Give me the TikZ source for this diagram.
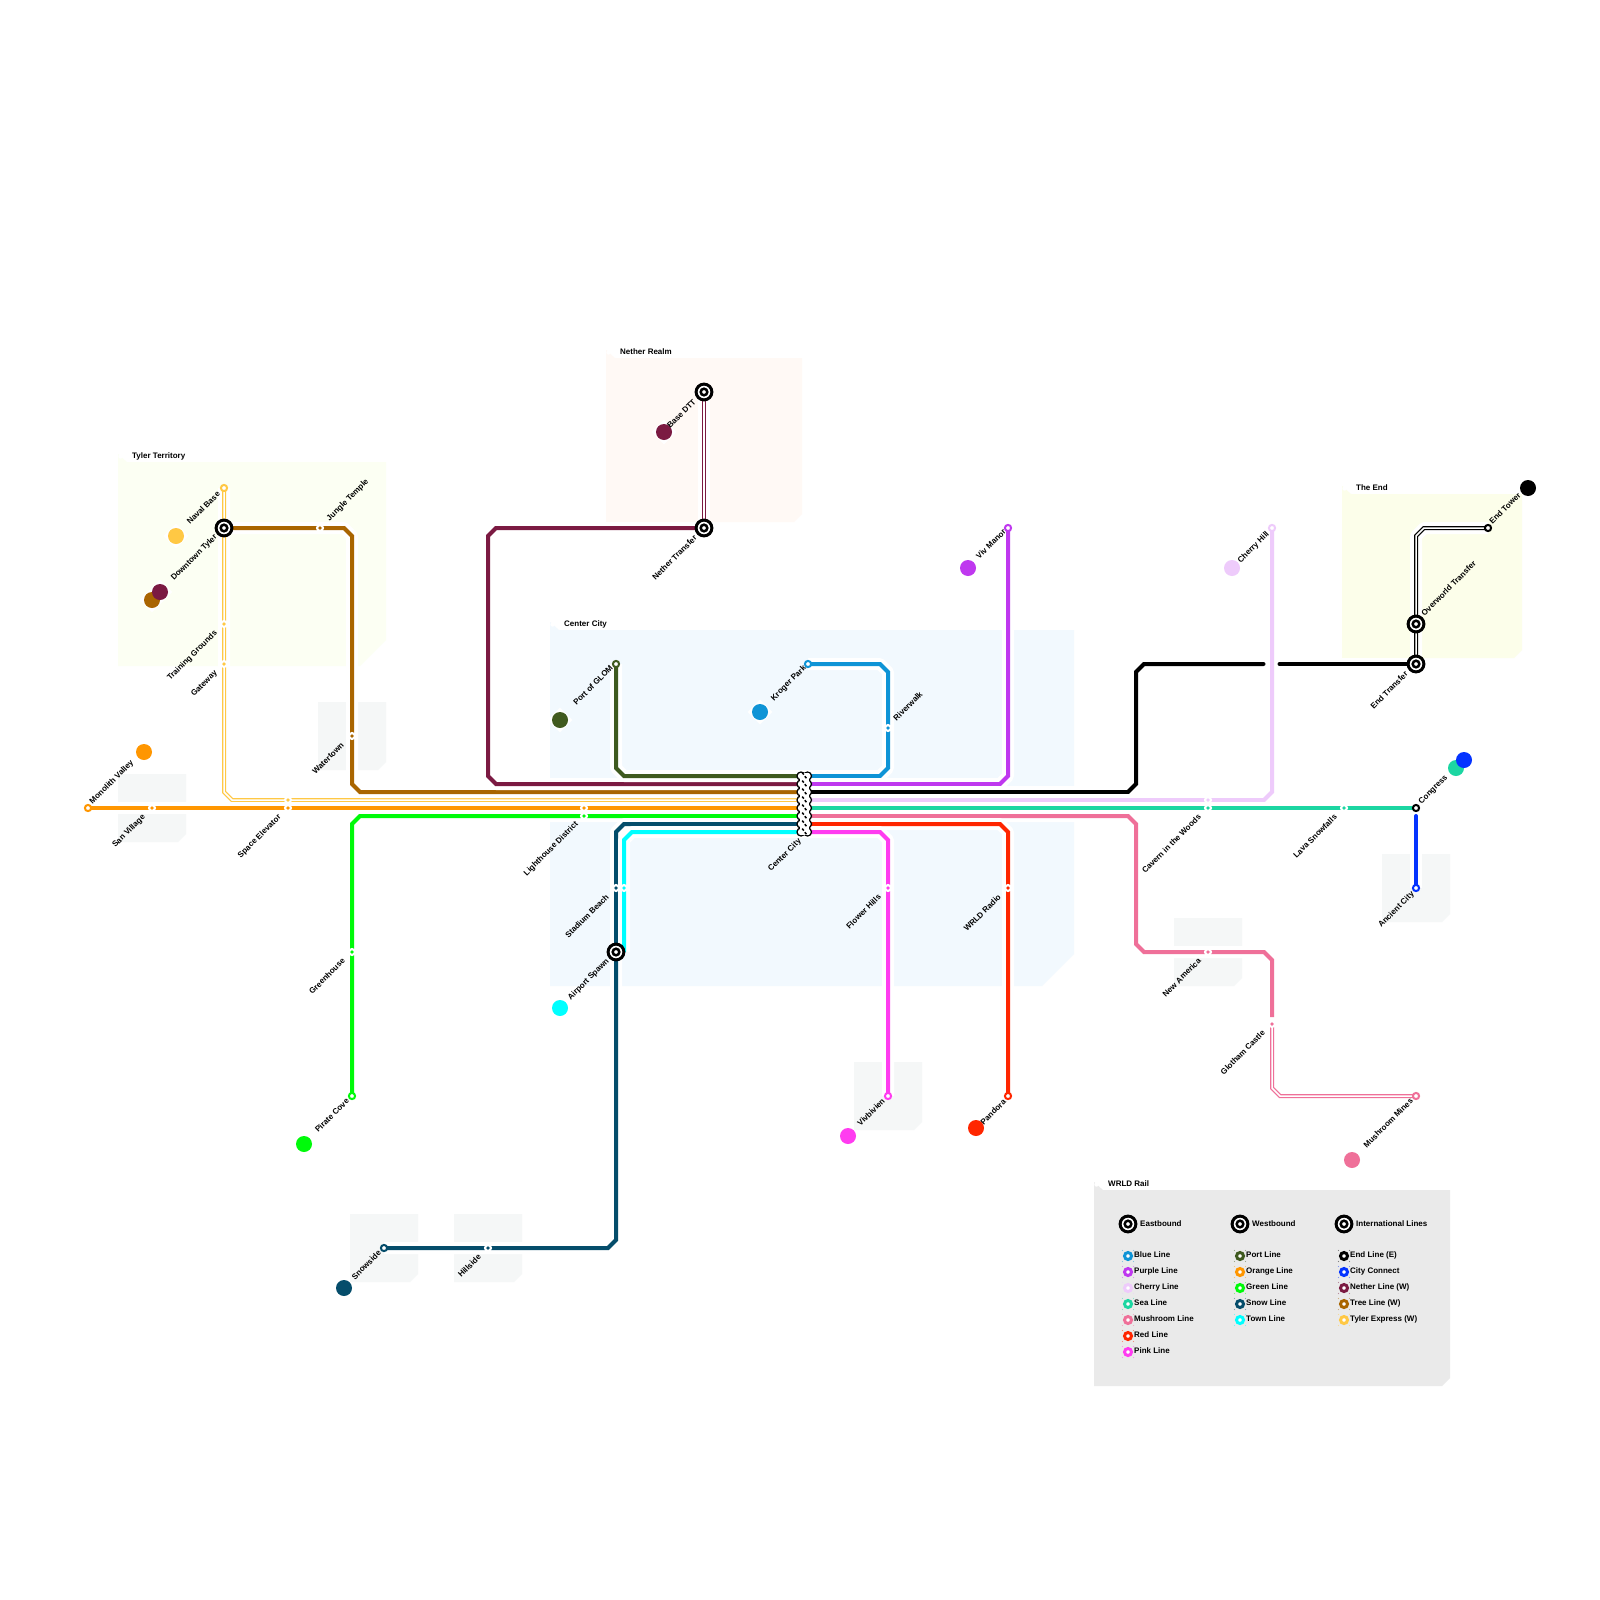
\documentclass[tikz,border=0pt]{standalone}
\usepackage{fontspec}
\setmainfont{Liberation Sans}
\newfontfamily\labfont{Liberation Sans Bold}
\pgfdeclarelayer{bgl}
\pgfdeclarelayer{linel}
\pgfsetlayers{bgl,linel,main}
\usetikzlibrary{shapes.geometric}
\definecolor{cBlue}{HTML}{0F94D6}
\definecolor{cPurple}{HTML}{BF38EF}
\definecolor{cCherry}{HTML}{EECBFB}
\definecolor{cSea}{HTML}{1CD6A2}
\definecolor{cMush}{HTML}{EF7099}
\definecolor{cRed}{HTML}{FF2600}
\definecolor{cPink}{HTML}{FF3CF0}
\definecolor{cPort}{HTML}{3F5A1F}
\definecolor{cOrange}{HTML}{FF9600}
\definecolor{cGreen}{HTML}{00FA0A}
\definecolor{cSnow}{HTML}{054D6B}
\definecolor{cTown}{HTML}{00FFFF}
\definecolor{cEnd}{HTML}{000000}
\definecolor{cCity}{HTML}{0433FF}
\definecolor{cNether}{HTML}{7B1A42}
\definecolor{cTree}{HTML}{A96500}
\definecolor{cTyler}{HTML}{FFC844}
\definecolor{bgTyler}{HTML}{FCFFF3}
\definecolor{bgNether}{HTML}{FFF9F5}
\definecolor{bgEnd}{HTML}{FCFEEA}
\definecolor{bgCenter}{HTML}{F2F9FE}
\definecolor{bgTown}{HTML}{F5F7F7}
\definecolor{bgLegend}{HTML}{EAEAEA}
\tikzset{
  x=1pt,y=-1pt,
  metro/.style={draw=#1,line width=4pt,line join=miter,preaction={draw=white,line width=12pt,line join=round}},
  metrotop/.style={draw=#1,line width=4pt,line cap=round,line join=miter,preaction={draw=white,line width=12pt,line cap=butt,line join=round}},
  thinmetro/.style={draw=#1,line width=4pt,preaction={draw=white,line width=12pt,line join=round},postaction={draw=white,line width=1.5pt}},
  halt/.style={circle,minimum size=5.8pt,inner sep=0pt,outer sep=0pt,fill=#1,draw=white,line width=2.2pt},
  endring/.style={circle,minimum size=6.2pt,inner sep=0pt,fill=white,draw=#1,line width=2pt},
  bull/.style={circle,minimum size=6.6pt,inner sep=0pt,fill=white,draw=black,line width=2.5pt},
  bullouter/.style={circle,minimum size=15.8pt,inner sep=0pt,fill=white,draw=black,line width=3pt},
  disc/.style={circle,minimum size=16pt,inner sep=0pt,fill=#1},
  halo/.style={diamond,minimum size=25pt,inner sep=0pt,fill=white},
  lbl/.style={font=\labfont\fontsize{8}{10}\selectfont,text=black,inner sep=0pt,text height=6.2pt,text depth=1.8pt},
  lblL/.style={lbl,rotate=45,anchor=east},
  lblR/.style={lbl,rotate=45,anchor=west},
  ttl/.style={lbl,anchor=west},
  key/.style={circle,minimum size=7pt,inner sep=0pt,fill=white,draw=#1,line width=3pt},
}
% plain area: rectangle with chamfered lower-right corner
\newcommand{\area}[6]{%
  \fill[#5] (#1,#2) -- (#3,#2) -- (#3,#4-#6) -- (#3-#6,#4) -- (#1,#4) -- cycle;
}
% titled area: adds the small tab at the upper-left corner
\newcommand{\areat}[6]{%
  \fill[#5] (#1,#2-8) -- (#1+9,#2) -- (#3,#2) -- (#3,#4-#6) -- (#3-#6,#4) -- (#1,#4) -- cycle;
  \fill[white] (#1+2.5,#2-5.5) circle (2.2);
}
\newcommand{\term}[4]{\node[disc=#4] (#1) at (#2,#3) {};}
\newcommand{\termh}[3]{\node[halo] (#1h) at (#2,#3) {};}
\newcommand{\hal}[4]{\node[halt=#4] (#1) at (#2,#3) {};}
\newcommand{\ring}[4]{\node[endring=#4] (#1) at (#2,#3) {};}
\newcommand{\bullseye}[3]{%
  \node[bullouter] (#1o) at (#2,#3) {};
  \node[bull] (#1) at (#2,#3) {};
}
\newcommand{\legbull}[4]{%
  \node[bullouter] (#1o) at (#2,#3) {};
  \node[bull] (#1) at (#2,#3) {};
  \node[ttl] (#1t) at (#2+12,#3) {#4};
}
\newcommand{\legkey}[5]{%
  \node[key=#4] (#1) at (#2,#3) {};
  \fill[#4,opacity=.45] (#2-5.5,#3-5.5) circle (.6) (#2+5.5,#3-5.5) circle (.6) (#2-5.5,#3+5.5) circle (.6) (#2+5.5,#3+5.5) circle (.6);
  \node[ttl] (#1t) at (#2+6,#3-.5) {#5};
}
\begin{document}
\begin{tikzpicture}[x=1pt,y=-1pt]
\useasboundingbox (0,0) rectangle (1600,1600);
\begin{pgfonlayer}{bgl}
\fill[white] (0,0) rectangle (1600,1600);
\areat{118}{462}{386}{666}{bgTyler}{26}
\areat{606}{358}{802}{522}{bgNether}{8}
\areat{1342}{494}{1522}{658}{bgEnd}{8}
\areat{550}{630}{1074}{986}{bgCenter}{32}
\area{118}{774}{186}{842}{bgTown}{8}
\area{318}{702}{386}{770}{bgTown}{8}
\area{1382}{854}{1450}{922}{bgTown}{8}
\area{1174}{918}{1242}{986}{bgTown}{8}
\area{854}{1062}{922}{1130}{bgTown}{8}
\area{350}{1214}{418}{1282}{bgTown}{8}
\area{454}{1214}{522}{1282}{bgTown}{8}
\areat{1094}{1190}{1450}{1386}{bgLegend}{8}
\end{pgfonlayer}

% hub ports
\coordinate (hp1) at (804,776);
\coordinate (hp2) at (804,784);
\coordinate (hp3) at (804,792);
\coordinate (hp4) at (804,800);
\coordinate (hp5) at (804,808);
\coordinate (hp6) at (804,816);
\coordinate (hp7) at (804,824);
\coordinate (hp8) at (804,832);

% halos behind the terminus discs
\termh{dTyler}{176}{536}
\termh{dTree}{152}{600}
\termh{dNether}{160}{592}
\termh{dOrange}{144}{752}
\termh{dTown}{560}{1008}
\termh{dPort}{560}{720}
\termh{dBase}{664}{432}
\termh{dBlue}{760}{712}
\termh{dSea}{1456}{768}
\termh{dCity}{1464}{760}
% terminus discs
\term{dTyler}{176}{536}{cTyler}
\term{dTree}{152}{600}{cTree}
\term{dNether}{160}{592}{cNether}
\term{dOrange}{144}{752}{cOrange}
\term{dSnow}{344}{1288}{cSnow}
\term{dGreen}{304}{1144}{cGreen}
\term{dTown}{560}{1008}{cTown}
\term{dPort}{560}{720}{cPort}
\term{dBase}{664}{432}{cNether}
\term{dBlue}{760}{712}{cBlue}
\term{dPurple}{968}{568}{cPurple}
\term{dCherry}{1232}{568}{cCherry}
\term{dPink}{848}{1136}{cPink}
\term{dRed}{976}{1128}{cRed}
\term{dMush}{1352}{1160}{cMush}
\term{dSea}{1456}{768}{cSea}
\term{dCity}{1464}{760}{cCity}
\term{dEnd}{1528}{488}{cEnd}

% stations
\ring{naval}{224}{488}{cTyler}
\hal{jungle}{320}{528}{cTree}
\hal{training}{224}{624}{cTyler}
\hal{gateway}{224}{664}{cTyler}
\ring{monolith}{88}{808}{cOrange}
\hal{sanv}{152}{808}{cOrange}
\hal{spaceT}{288}{800}{cTyler}
\hal{spaceO}{288}{808}{cOrange}
\hal{water}{352}{736}{cTree}
\hal{lightO}{584}{808}{cOrange}
\hal{lightG}{584}{816}{cGreen}
\hal{greenh}{352}{952}{cGreen}
\ring{pirate}{352}{1096}{cGreen}
\ring{snowside}{384}{1248}{cSnow}
\hal{hillside}{488}{1248}{cSnow}
\hal{stadS}{616}{888}{cSnow}
\hal{stadT}{624}{888}{cTown}
\ring{glom}{616}{664}{cPort}
\ring{kroger}{808}{664}{cBlue}
\hal{river}{888}{728}{cBlue}
\ring{viv}{1008}{528}{cPurple}
\ring{chill}{1272}{528}{cCherry}
\hal{cavC}{1208}{800}{cCherry}
\hal{cavS}{1208}{808}{cSea}
\hal{lava}{1344}{808}{cSea}
\ring{congress}{1416}{808}{cEnd}
\ring{ancient}{1416}{888}{cCity}
\hal{newam}{1208}{952}{cMush}
\hal{gotham}{1272}{1024}{cMush}
\ring{mmines}{1416}{1096}{cMush}
\hal{wrldr}{1008}{888}{cRed}
\ring{pandora}{1008}{1096}{cRed}
\hal{flower}{888}{888}{cPink}
\ring{vivb}{888}{1096}{cPink}
\ring{etower}{1488}{528}{cEnd}
\bullseye{dtyler}{224}{528}
\bullseye{ntrans}{704}{528}
\bullseye{basedtt}{704}{392}
\bullseye{aspawn}{616}{952}
\bullseye{otrans}{1416}{624}
\bullseye{etrans}{1416}{664}

% hub drawing
\foreach \yy in {776,784,...,832} {
  \fill[black] (801,\yy) circle (4.7) (807.5,\yy) circle (4.7);
}
\foreach \yy in {776,784,...,832} {
  \fill[white] (801,\yy) circle (3.2) (807.5,\yy) circle (3.2);
}
\fill[white] (800,773) rectangle (808.5,835);
\foreach \yy in {776,784,...,832} {
  \draw[black,line width=1.5pt] (802.2,\yy-3.4) -- (803.8,\yy-1.4) (804.8,\yy+0.2) -- (806.4,\yy+2.2);
}
\coordinate (hubl) at (800,840);

% connectors
\begin{pgfonlayer}{linel}
\path[thinmetro=cTyler] (naval.center) -- (224,792) -- (232,800) -- (hp4);
\path[metro=cTree] (dtyler.center) -- (344,528) -- (352,536) -- (352,784) -- (360,792) -- (hp3);
\path[metro=cNether] (ntrans.center) -- (496,528) -- (488,536) -- (488,776) -- (496,784) -- (hp2);
\path[thinmetro=cNether] (basedtt.center) -- (ntrans.center);
\path[metro=cOrange] (monolith.center) -- (hp5);
\path[metro=cGreen] (pirate.center) -- (352,824) -- (360,816) -- (hp6);
\path[metro=cSnow] (snowside.center) -- (608,1248) -- (616,1240) -- (616,832) -- (624,824) -- (hp7);
\path[metro=cTown] (aspawn.center) ++(8,0) -- (624,840) -- (632,832) -- (hp8);
\path[metro=cPort] (glom.center) -- (616,768) -- (624,776) -- (hp1);
\path[metro=cBlue] (kroger.center) -- (880,664) -- (888,672) -- (888,768) -- (880,776) -- (hp1);
\path[metro=cPurple] (viv.center) -- (1008,776) -- (1000,784) -- (hp2);
\path[metrotop=cEnd] (hp3) -- (1128,792) -- (1136,784) -- (1136,672) -- (1144,664) -- (1263.5,664);
\path[metro=cCherry] (chill.center) -- (1272,792) -- (1264,800) -- (hp4);
\path[metrotop=cEnd] (1279.5,664) -- (etrans.center);
\path[thinmetro=cEnd] (etrans.center) -- (1416,536) -- (1424,528) -- (etower.center);
\path[metro=cSea] (hp5) -- (congress.center);
\path[metrotop=cCity] (1416,816) -- (ancient.center);
\path[metro=cMush] (hp6) -- (1128,816) -- (1136,824) -- (1136,944) -- (1144,952) -- (1264,952) -- (1272,960) -- (1272,1017);
\path[thinmetro=cMush] (gotham.center) -- (1272,1088) -- (1280,1096) -- (mmines.center);
\path[metro=cRed] (hp7) -- (1000,824) -- (1008,832) -- (pandora.center);
\path[metro=cPink] (hp8) -- (880,832) -- (888,840) -- (vivb.center);
\end{pgfonlayer}

% station labels
\node[lblL] (t1) at ([shift={(-5,5)}]naval.center) {Naval Base};
\node[lblL] (t2) at ([shift={(-8,8)}]dtyler.center) {Downtown Tyler};
\node[lblR] (t3) at ([shift={(8,-8)}]jungle.center) {Jungle Temple};
\node[lblL] (t4) at ([shift={(-8,8)}]training.center) {Training Grounds};
\node[lblL] (t5) at ([shift={(-8,8)}]gateway.center) {Gateway};
\node[lblR] (t6) at ([shift={(3,-5)}]monolith.center) {Monolith Valley};
\node[lblL] (t7) at ([shift={(-8,8)}]sanv.center) {San Village};
\node[lblL] (t8) at ([shift={(-8,8)}]spaceO.center) {Space Elevator};
\node[lblL] (t9) at ([shift={(-9,8)}]water.center) {Watertown};
\node[lblL] (t10) at ([shift={(-7,7)}]lightG.center) {Lighthouse District};
\node[lblL] (t11) at ([shift={(-8,8)}]greenh.center) {Greenhouse};
\node[lblL] (t12) at ([shift={(-4,4)}]pirate.center) {Pirate Cove};
\node[lblL] (t13) at ([shift={(-4,4)}]snowside.center) {Snowside};
\node[lblL] (t14) at ([shift={(-8,8)}]hillside.center) {Hillside};
\node[lblL] (t15) at ([shift={(-8,8)}]stadS.center) {Stadium Beach};
\node[lblL] (t16) at ([shift={(-8,8)}]aspawn.center) {Airport Spawn};
\node[lblL] (t17) at ([shift={(-4,3)}]glom.center) {Port of GLOM};
\node[lblL] (t18) at ([shift={(-3,3)}]kroger.center) {Kroger Park};
\node[lblR] (t19) at ([shift={(7,-8)}]river.center) {Riverwalk};
\node[lblL] (t20) at ([shift={(-3,3)}]viv.center) {Viv Manor};
\node[lblL] (t21) at ([shift={(-9,9)}]basedtt.center) {Base DTT};
\node[lblL] (t22) at ([shift={(-8,9)}]ntrans.center) {Nether Transfer};
\node[lblL] (t23) at ([shift={(-4,5)}]chill.center) {Cherry Hill};
\node[lblL] (t24) at ([shift={(-8,8)}]cavS.center) {Cavern in the Woods};
\node[lblL] (t25) at ([shift={(-8,8)}]lava.center) {Lava Snowfalls};
\node[lblR] (t26) at ([shift={(4,-5)}]congress.center) {Congress};
\node[lblL] (t27) at ([shift={(-3,5)}]ancient.center) {Ancient City};
\node[lblL] (t28) at ([shift={(-8,8)}]newam.center) {New America};
\node[lblL] (t29) at ([shift={(-8,8)}]gotham.center) {Glotham Castle};
\node[lblL] (t30) at ([shift={(-4,4)}]mmines.center) {Mushroom Mines};
\node[lblL] (t31) at ([shift={(-8,8)}]wrldr.center) {WRLD Radio};
\node[lblL] (t32) at ([shift={(-3,5)}]pandora.center) {Pandora};
\node[lblL] (t33) at ([shift={(-8,8)}]flower.center) {Flower Hills};
\node[lblL] (t34) at ([shift={(-4,4)}]vivb.center) {Vivbivien};
\node[lblR] (t35) at ([shift={(7,-9)}]otrans.center) {Overworld Transfer};
\node[lblL] (t36) at ([shift={(-9,9)}]etrans.center) {End Transfer};
\node[lblR] (t37) at ([shift={(3,-5)}]etower.center) {End Tower};
\node[lblL] (t38) at (hubl) {Center City};

% area titles
\node[ttl] (a1) at (132,456) {Tyler Territory};
\node[ttl] (a2) at (620,352) {Nether Realm};
\node[ttl] (a3) at (1356,488) {The End};
\node[ttl] (a4) at (564,624) {Center City};
\node[ttl] (a5) at (1108,1184) {WRLD Rail};

% legend
\legbull{le}{1128}{1224}{Eastbound}
\legbull{lw}{1240}{1224}{Westbound}
\legbull{li}{1344}{1224}{International Lines}
\legkey{k1}{1128}{1256}{cBlue}{Blue Line}
\legkey{k2}{1128}{1272}{cPurple}{Purple Line}
\legkey{k3}{1128}{1288}{cCherry}{Cherry Line}
\legkey{k4}{1128}{1304}{cSea}{Sea Line}
\legkey{k5}{1128}{1320}{cMush}{Mushroom Line}
\legkey{k6}{1128}{1336}{cRed}{Red Line}
\legkey{k7}{1128}{1352}{cPink}{Pink Line}
\legkey{k8}{1240}{1256}{cPort}{Port Line}
\legkey{k9}{1240}{1272}{cOrange}{Orange Line}
\legkey{k10}{1240}{1288}{cGreen}{Green Line}
\legkey{k11}{1240}{1304}{cSnow}{Snow Line}
\legkey{k12}{1240}{1320}{cTown}{Town Line}
\legkey{k13}{1344}{1256}{cEnd}{End Line (E)}
\legkey{k14}{1344}{1272}{cCity}{City Connect}
\legkey{k15}{1344}{1288}{cNether}{Nether Line (W)}
\legkey{k16}{1344}{1304}{cTree}{Tree Line (W)}
\legkey{k17}{1344}{1320}{cTyler}{Tyler Express (W)}
\end{tikzpicture}
\end{document}
